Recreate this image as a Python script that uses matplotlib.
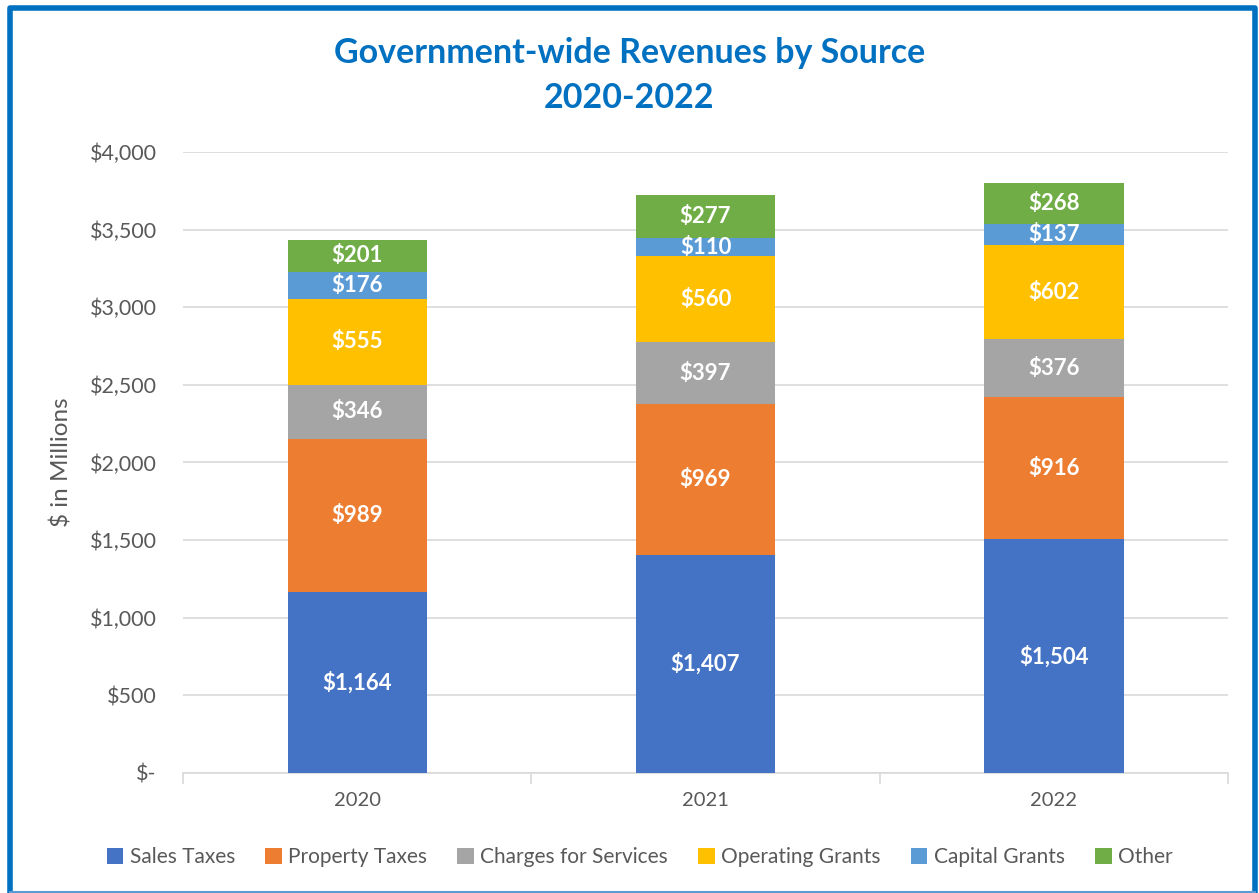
import matplotlib.pyplot as plt
import numpy as np
from matplotlib.lines import Line2D
from matplotlib.ticker import FuncFormatter

plt.rcParams['font.family'] = ['Lato', 'DejaVu Sans']

years = ['2020', '2021', '2022']
sources = ['Sales Taxes', 'Property Taxes', 'Charges for Services',
           'Operating Grants', 'Capital Grants', 'Other']
sales_taxes = [1164, 1407, 1504]
property_taxes = [989, 969, 916]
charges_for_services = [346, 397, 376]
operating_grants = [555, 560, 602]
capital_grants = [176, 110, 137]
other = [201, 277, 268]
colors = ['#4472C4', '#ED7D31', '#A5A5A5', '#FFC000', '#5B9BD5', '#70AD47']

series = [sales_taxes, property_taxes, charges_for_services,
          operating_grants, capital_grants, other]

fig = plt.figure(figsize=(12.59, 8.93), dpi=100)
ax = fig.add_axes([0.1454, 0.1344, 0.830, 0.6954])

x = np.arange(len(years))
bottom = np.zeros(len(years))
for name, vals, col in zip(sources, series, colors):
    vals = np.array(vals, dtype=float)
    ax.bar(x, vals, 0.4, bottom=bottom, color=col, label=name, zorder=3)
    for xi, b, v in zip(x, bottom, vals):
        ax.text(xi, b + v / 2, f"${v:,.0f}", ha='center', va='center',
                color='white', fontsize=16, fontweight='bold', zorder=4)
    bottom += vals

ax.set_xlim(-0.5, 2.5)
ax.set_ylim(0, 4000)
ax.set_yticks(np.arange(0, 4001, 500))
ax.yaxis.set_major_formatter(FuncFormatter(lambda v, p: "$-" if v == 0 else f"${v:,.0f}"))
ax.grid(axis='y', color='#D9D9D9', linewidth=1.2, zorder=0)
ax.set_xticks(x)
ax.set_xticklabels(years)
ax.set_xticks([-0.5, 0.5, 1.5, 2.5], minor=True)
ax.tick_params(axis='x', which='major', length=0, pad=14, labelsize=14.5, labelcolor='#595959')
ax.tick_params(axis='x', which='minor', length=8, color='#D9D9D9', width=1.2)
ax.tick_params(axis='y', length=0, pad=19, labelsize=15.5, labelcolor='#595959')
for s in ['top', 'right', 'left']:
    ax.spines[s].set_visible(False)
ax.spines['bottom'].set_color('#D9D9D9')
ax.spines['bottom'].set_linewidth(1.2)
ax.set_ylabel("$ in Millions", fontsize=17.5, color='#595959', labelpad=12)

fig.text(0.5, 0.941, "Government-wide Revenues by Source", ha='center', va='center',
         fontsize=24.5, fontweight='bold', color='#0070C0')
fig.text(0.5, 0.890, "2020-2022", ha='center', va='center',
         fontsize=24.5, fontweight='bold', color='#0070C0')

fig.legend(loc='center', bbox_to_anchor=(0.508, 0.04), ncol=6, frameon=False,
           fontsize=15, labelcolor='#595959', handlelength=0.8, handleheight=0.8,
           handletextpad=0.3, columnspacing=1.45)

# frame around the chart: heavy blue left/top/right, thin light bottom
xl, xr, yt, yb = 0.0083, 0.9965, 0.991, 0.0015
fig.add_artist(Line2D([xl, xl, xr, xr], [yb, yt, yt, yb], transform=fig.transFigure,
                      color='#0070C0', linewidth=4))
fig.add_artist(Line2D([xl, xr], [yb, yb], transform=fig.transFigure,
                      color='#5B9BD5', linewidth=1.5))

fig.savefig('out.png', dpi=100)
